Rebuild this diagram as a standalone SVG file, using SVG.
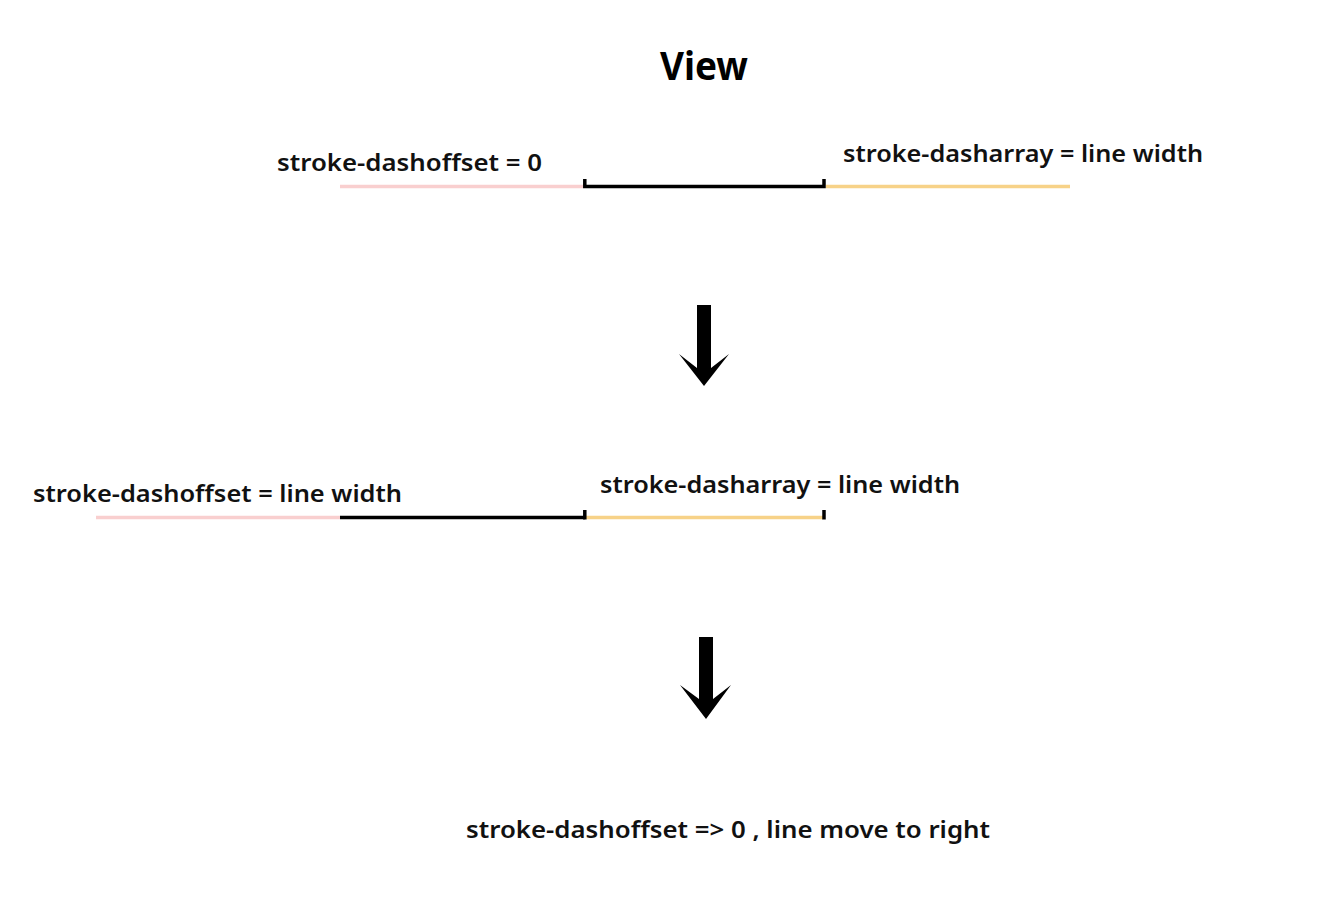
<svg xmlns="http://www.w3.org/2000/svg" width="1335" height="900" viewBox="0 0 1335 900">
<style>
.lbl{font-family:"Noto Sans","Open Sans","Liberation Sans",sans-serif;font-weight:600;font-size:24px;fill:#111}
.title{font-family:"Noto Sans","Open Sans","Liberation Sans",sans-serif;font-weight:700;font-size:39px;fill:#000}
.pink{stroke:#f9cfcf;stroke-width:3.5;fill:none}
.orange{stroke:#f7d288;stroke-width:3.5;fill:none}
.blk{stroke:#000;stroke-width:3.5;fill:none}
.arrow{fill:#000}
</style>
<rect width="1335" height="900" fill="#fff"/>
<g id="title"><text class="title" x="660" y="80" textLength="88" lengthAdjust="spacingAndGlyphs">View</text></g>
<g id="row1">
<text class="lbl" x="277" y="171" textLength="265" lengthAdjust="spacingAndGlyphs">stroke-dashoffset = 0</text>
<text class="lbl" x="843" y="162" textLength="360" lengthAdjust="spacingAndGlyphs">stroke-dasharray = line width</text>
<line class="pink" x1="340" y1="186.5" x2="583" y2="186.5"/>
<path class="blk" d="M584.8 179 V186.5 H824 V179"/>
<line class="orange" x1="826" y1="186.5" x2="1070" y2="186.5"/>
</g>
<g id="row2">
<text class="lbl" x="33" y="502" textLength="369" lengthAdjust="spacingAndGlyphs">stroke-dashoffset = line width</text>
<text class="lbl" x="600" y="493" textLength="360" lengthAdjust="spacingAndGlyphs">stroke-dasharray = line width</text>
<line class="pink" x1="96" y1="517.5" x2="340" y2="517.5"/>
<line class="blk" x1="340" y1="517.5" x2="585" y2="517.5"/>
<line class="orange" x1="586" y1="517.5" x2="823" y2="517.5"/>
<line class="blk" x1="584.8" y1="510" x2="584.8" y2="519.5"/>
<line class="blk" x1="824" y1="510" x2="824" y2="519.5"/>
</g>
<g id="connectors">
<polygon class="arrow" points="697,305 711,305 711,368 729,354 704,386 679,354 697,368"/>
<polygon class="arrow" points="699,637 713,637 713,699 731,685 706,719 680,685 699,699"/>
</g>
<g id="footer">
<text class="lbl" x="466" y="838" textLength="524" lengthAdjust="spacingAndGlyphs">stroke-dashoffset =&gt; 0 , line move to right</text>
</g>
</svg>
